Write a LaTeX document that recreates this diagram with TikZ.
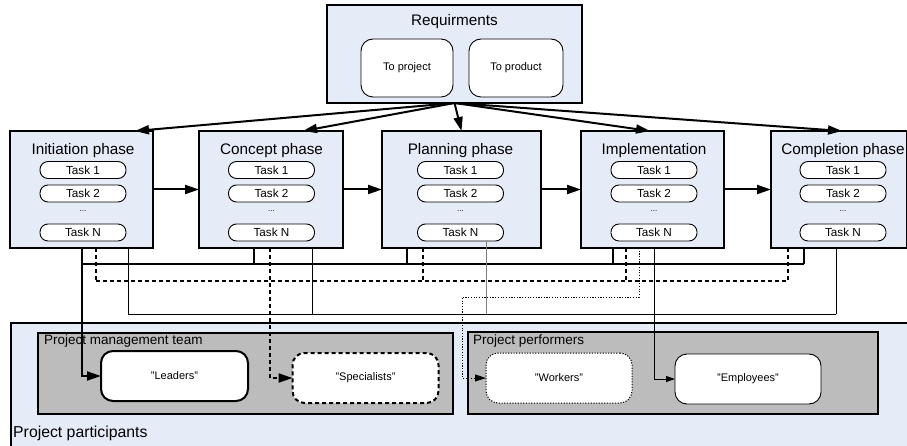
\documentclass[tikz,border=0pt]{standalone}
\usepackage{fontspec}
\setmainfont{Liberation Sans}
\usetikzlibrary{arrows.meta}
\definecolor{phaseblue}{RGB}{230,236,247}
\definecolor{groupgray}{RGB}{188,188,188}

\begin{document}
\begin{tikzpicture}[x=1pt,y=-1pt,
  phase/.style={draw, line width=2pt, fill=phaseblue, minimum height=117pt, inner sep=0pt, outer sep=0pt},
  phasetitle/.style={font=\fontsize{15.3}{17}\selectfont, inner sep=0pt},
  task/.style={draw, fill=white, line width=0.9pt, rounded corners=8pt, minimum width=86pt, minimum height=17pt, inner sep=0pt, outer sep=0pt, font=\fontsize{11.7}{13}\selectfont},
  pill/.style={draw, fill=white, rounded corners=12pt, minimum width=146pt, minimum height=50pt, inner sep=0pt, outer sep=0pt, font=\fontsize{11}{13}\selectfont},
  group/.style={draw, line width=2pt, fill=groupgray, anchor=north west, inner sep=0pt, outer sep=0pt},
  grouplabel/.style={anchor=west, inner sep=2pt, font=\fontsize{13.5}{15}\selectfont},
  flow/.style={line width=2pt, -{Triangle[length=14pt,width=9pt]}},
  lead/.style={line width=2pt},
  spec/.style={line width=2pt, dash pattern=on 4pt off 3pt},
  work/.style={line width=1pt, dash pattern=on 1.2pt off 1.5pt},
  empl/.style={line width=0.9pt}]
\useasboundingbox (0,0) rectangle (907,446);

% Project participants
\node[draw, line width=1.5pt, fill=phaseblue, anchor=north west, minimum width=910pt, minimum height=130pt, inner sep=0pt] (part) at (10,322) {};
\node[anchor=west, inner sep=2pt, font=\fontsize{15.8}{17}\selectfont] at (11,433) {Project participants};
\node[group, minimum width=415pt, minimum height=81pt] (team) at (38,333) {};
\node[grouplabel] at (42,341) {Project management team};
\node[group, minimum width=410pt, minimum height=82pt] (perf) at (468,332) {};
\node[grouplabel] at (471,341) {Project performers};

% Requirements
\node[draw, line width=2pt, fill=phaseblue, minimum width=255pt, minimum height=98pt, inner sep=0pt, outer sep=0pt] (req) at (454.5,54) {};
\node[phasetitle] at (454.5,22) {Requirments};
\node[pill, line width=0.9pt, minimum width=92pt, minimum height=58pt] (toproj) at (407,68) {To project};
\node[pill, line width=0.9pt, minimum width=94pt, minimum height=58pt] (toprod) at (516,68) {To product};

% Phases
\foreach \n/\x/\w/\c/\t in {init/81.5/143/83/Initiation phase, conc/271/144/271.5/Concept phase, plan/461.5/159/460.5/Planning phase, impl/652.5/143/654/Implementation, comp/839/136/843/Completion phase}{
  \node[phase, minimum width=\w pt] (\n) at (\x,189.5) {};
  \node[phasetitle] at (\c,151) {\t};
  \node[task] (\n1) at (\c,170) {Task 1};
  \node[task] (\n2) at (\c,193.5) {Task 2};
  \node[font=\fontsize{8}{9}\selectfont] at (\c,211) {...};
  \node[task] (\n N) at (\c,232.5) {Task N};
}

\draw[flow] (req.south) -- ([xshift=53.5]init.north);
\draw[flow] (req.south) -- ([xshift=32]conc.north);
\draw[flow] (req.south) -- (plan.north);
\draw[flow] (req.south) -- ([xshift=-2.5]impl.north);
\draw[flow] (req.south) -- ([xshift=3]comp.north);

\draw[flow] (init.east) -- (conc.west);
\draw[flow] (conc.east) -- (plan.west);
\draw[flow] (plan.east) -- (impl.west);
\draw[flow] (impl.east) -- (comp.west);

% Participants
\node[pill, line width=2pt, minimum width=147pt] (leaders) at (174.5,376) {"Leaders"};
\node[pill, spec] (special) at (365.5,378) {"Specialists"};
\node[pill, work] (workers) at (559,378) {"Workers"};
\node[pill, empl] (employees) at (748,379) {"Employees"};

% Leaders bus
\coordinate (lbusL) at (82,264);
\coordinate (lbusR) at (804,264);
\draw[lead] (lbusL) -- (lbusR);
\draw[lead, -{Triangle[length=14pt,width=9pt]}] ([xshift=0.5]init.south) |- (leaders.west);
\foreach \n/\dx in {conc/-17, plan/-54.5, impl/-39.5, comp/-35}
  \draw[lead] ([xshift=\dx]\n.south) -- ([xshift=\dx]\n.south |- lbusL);

% Specialists bus
\coordinate (sbusL) at (96,281);
\coordinate (sbusR) at (788,281);
\draw[spec] (sbusL) -- (sbusR);
\draw[spec, -{Triangle[length=14pt,width=9pt]}] ([xshift=-1]conc.south) |- (special.west);
\foreach \n/\dx in {init/14.5, plan/-38.5, impl/-26.5, comp/-51}
  \draw[spec] ([xshift=\dx]\n.south) -- ([xshift=\dx]\n.south |- sbusL);

% Workers
\coordinate (wturn) at (462,297);
\draw[work, -{Triangle[length=11pt,width=7pt]}] ([xshift=-13.5]impl.south) |- (wturn) |- (workers.west);

% Employees bus
\coordinate (ebusL) at (128,314);
\coordinate (ebusR) at (836,314);
\draw[empl] (ebusL) -- (ebusR);
\draw[empl, -{Triangle[length=9pt,width=6pt]}] ([xshift=1.5]impl.south) |- (employees.west);
\foreach \n/\dx in {init/46.5, conc/41, comp/-3}
  \draw[empl] ([xshift=\dx]\n.south) -- ([xshift=\dx]\n.south |- ebusL);
\draw[empl, gray] ([xshift=25.5]planN.south) -- ([xshift=25.5]planN.south |- ebusL);
\end{tikzpicture}
\end{document}
